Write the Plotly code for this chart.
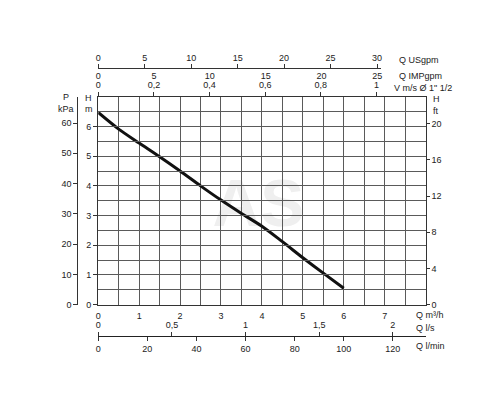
import plotly.graph_objects as go

# pump curve (flow in m3/h, head in m)
q_m3h = [0, 0.5, 1, 1.5, 2, 2.5, 3, 3.5, 4, 4.5, 5, 5.5, 6]
head_m = [6.47, 5.91, 5.44, 4.98, 4.50, 4.00, 3.52, 3.07, 2.64, 2.12, 1.58, 1.06, 0.55]

# tick values for the secondary scales
q_ticks = [0, 1, 2, 3, 4, 5, 6, 7]
h_ticks = [0, 1, 2, 3, 4, 5, 6]
kpa_ticks = [0, 10, 20, 30, 40, 50, 60]
ft_ticks = [0, 4, 8, 12, 16, 20]
usgpm_ticks = [0, 5, 10, 15, 20, 25, 30]
impgpm_ticks = [0, 5, 10, 15, 20, 25]
velocity_ticks = [0, 0.2, 0.4, 0.6, 0.8, 1.0]
velocity_labels = ["0", "0,2", "0,4", "0,6", "0,8", "1"]
ls_ticks = [0, 0.5, 1, 1.5, 2]
ls_labels = ["0", "0,5", "1", "1,5", "2"]
lmin_ticks = [0, 20, 40, 60, 80, 100, 120]

# unit conversions
Q_MAX, H_MAX = 8, 7
KPA_PER_M = 9.81
FT_PER_M = 3.28084
USGPM_PER_M3H = 4.403
IMPGPM_PER_M3H = 3.666
M3H_PER_MS = 6.8  # 1 1/2" pipe

W, H = 500, 400
FONT = "Liberation Sans"
TXT = "#222222"
GRID = "#5a5a5a"
AXC = "#333333"


def fx(px):
    return px / W


def fy(py):
    return 1 - py / H


X_DOM = [fx(96), fx(426)]
Y_DOM = [fy(308.5), fy(98)]
US_END = 381
us_range = (US_END - 96) / (426 - 96) * Q_MAX * USGPM_PER_M3H

tickfont = dict(family=FONT, size=9, color=TXT)

fig = go.Figure()
fig.add_trace(go.Scatter(
    x=q_m3h, y=head_m, mode="lines",
    line=dict(color="#111111", width=3, shape="spline", smoothing=0.8),
    showlegend=False, hoverinfo="skip",
))
# empty traces so every extra scale gets its own subplot and is drawn
for xa, ya in [("x2", "y"), ("x3", "y"), ("x4", "y"), ("x5", "y"),
               ("x6", "y"), ("x", "y2"), ("x", "y3")]:
    fig.add_trace(go.Scatter(x=[None], y=[None], xaxis=xa, yaxis=ya, mode="lines",
                             line=dict(color="rgba(0,0,0,0)"),
                             showlegend=False, hoverinfo="skip"))

fig.update_layout(
    width=W, height=H,
    margin=dict(l=0, r=0, t=0, b=0),
    paper_bgcolor="white",
    plot_bgcolor="rgba(0,0,0,0)",
    font=dict(family=FONT, size=9, color=TXT),
    hovermode=False,
    xaxis=dict(
        domain=X_DOM, range=[0, Q_MAX], tickvals=q_ticks, ticks="",
        showgrid=True, gridcolor=GRID, gridwidth=1.2,
        minor=dict(dtick=0.5, tick0=0, showgrid=True, gridcolor=GRID, gridwidth=1.2),
        showline=True, mirror=True, linecolor=AXC, linewidth=1.2,
        zeroline=False, tickfont=tickfont, ticklabelstandoff=2,
    ),
    yaxis=dict(
        domain=Y_DOM, range=[0, H_MAX], tickvals=h_ticks,
        ticks="outside", ticklen=4, tickcolor=AXC,
        showgrid=True, gridcolor=GRID, gridwidth=1.2,
        minor=dict(dtick=0.5, tick0=0, showgrid=True, gridcolor=GRID, gridwidth=1.2),
        showline=True, mirror=True, linecolor=AXC, linewidth=1.2,
        zeroline=False, tickfont=tickfont, ticklabelstandoff=0,
    ),
    yaxis2=dict(
        overlaying="y", anchor="free", position=fx(75), side="left",
        range=[0, H_MAX * KPA_PER_M], tickvals=kpa_ticks,
        ticks="outside", ticklen=4, tickcolor=AXC,
        showline=True, linecolor=AXC, linewidth=1.2,
        showgrid=False, zeroline=False, tickfont=tickfont, ticklabelstandoff=0,
    ),
    yaxis3=dict(
        overlaying="y", anchor="x", side="right",
        range=[0, H_MAX * FT_PER_M], tickvals=ft_ticks,
        ticks="outside", ticklen=3, tickcolor=AXC,
        showgrid=False, zeroline=False, tickfont=tickfont, ticklabelstandoff=0,
    ),
    xaxis2=dict(
        domain=[fx(96), fx(US_END)], anchor="free", position=fy(69.3), side="top",
        range=[0, us_range], tickvals=usgpm_ticks,
        ticks="outside", ticklen=4, tickcolor=AXC,
        showline=True, linecolor=AXC, linewidth=1.2,
        showgrid=False, zeroline=False, tickfont=tickfont, ticklabelstandoff=0,
    ),
    xaxis3=dict(
        overlaying="x", anchor="free", position=fy(69.3), side="bottom",
        range=[0, Q_MAX * IMPGPM_PER_M3H], tickvals=impgpm_ticks, ticks="",
        showgrid=False, zeroline=False, tickfont=tickfont, ticklabelstandoff=1,
    ),
    xaxis4=dict(
        overlaying="x", anchor="free", position=Y_DOM[1], side="top",
        range=[0, Q_MAX / M3H_PER_MS], tickvals=velocity_ticks, ticktext=velocity_labels,
        ticks="outside", ticklen=5, tickcolor=AXC,
        showgrid=False, zeroline=False, tickfont=tickfont, ticklabelstandoff=0,
    ),
    xaxis5=dict(
        overlaying="x", anchor="free", position=fy(340.3), side="top",
        range=[0, Q_MAX / 3.6], tickvals=ls_ticks, ticktext=ls_labels,
        ticks="outside", ticklen=4, tickcolor=AXC,
        showline=True, linecolor="#222222", linewidth=1.4,
        showgrid=False, zeroline=False, tickfont=tickfont, ticklabelstandoff=0,
    ),
    xaxis6=dict(
        overlaying="x", anchor="free", position=fy(340.3), side="bottom",
        range=[0, Q_MAX * 1000 / 60], tickvals=lmin_ticks,
        ticks="outside", ticklen=4, tickcolor=AXC,
        showgrid=False, zeroline=False, tickfont=tickfont, ticklabelstandoff=0,
    ),
)

labels = [
    ("Q USgpm", 398, 61, "left"),
    ("Q IMPgpm", 398, 77, "left"),
    ("V m/s Ø 1\" 1/2", 393, 89, "left"),
    ("H", 432, 100, "left"),
    ("ft", 432, 112, "left"),
    ("P", 64, 98, "center"),
    ("kPa", 64, 110, "center"),
    ("H", 86, 99, "center"),
    ("m", 87, 110, "center"),
    ("Q m³/h", 415, 319, "left"),
    ("Q l/s", 415, 332, "left"),
    ("Q l/min", 415, 350, "left"),
]
for text, x, y, anchor in labels:
    fig.add_annotation(text=text, x=fx(x), y=fy(y), xref="paper", yref="paper",
                       xanchor=anchor, yanchor="middle", showarrow=False,
                       bgcolor="white", borderpad=0,
                       font=dict(family=FONT, size=9, color=TXT))

# faint watermark behind the grid
fig.add_shape(type="rect", xref="paper", yref="paper",
              x0=fx(215), x1=fx(300), y0=fy(232), y1=fy(166),
              line_width=0, fillcolor="rgba(0,0,0,0)", layer="below",
              label=dict(text="AS", font=dict(family="Liberation Sans Narrow, Liberation Sans",
                                              size=66, color="#efefef", weight="bold")))

fig.write_html("out.html", config={"displayModeBar": False},
               post_script="document.body.style.margin='0';")
